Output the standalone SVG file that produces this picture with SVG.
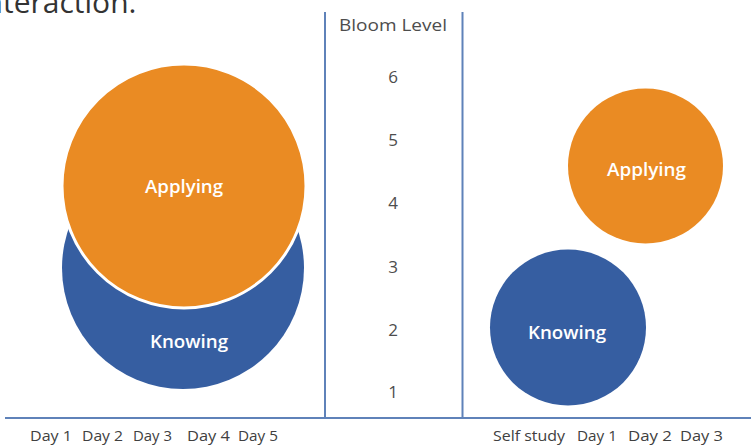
<svg xmlns="http://www.w3.org/2000/svg" width="751" height="447" viewBox="0 0 751 447">
  <style>
    .axis { stroke: #5f82b9; stroke-width: 2; fill: none; }
    .orange { fill: #ea8b23; }
    .blue { fill: #365ea1; }
    .lbl { font-family: "Open Sans", "Liberation Sans", sans-serif; fill: #ffffff; font-size: 18px; font-weight: 600; text-anchor: middle; }
    .num { font-family: "Open Sans", "Liberation Sans", sans-serif; fill: #4d4d4d; font-size: 17px; text-anchor: middle; }
    .tick { font-family: "Open Sans", "Liberation Sans", sans-serif; fill: #404040; font-size: 15px; }
    .cap { font-family: "Open Sans", "Liberation Sans", sans-serif; fill: #333333; font-size: 30px; }
  </style>
  <rect width="751" height="447" fill="#ffffff"/>
  <text class="cap" x="-23" y="13">interaction.</text>

  <g id="connectors">
    <line class="axis" x1="5" y1="418" x2="751" y2="418"/>
    <line class="axis" x1="325" y1="12" x2="325" y2="418"/>
    <line class="axis" x1="462.5" y1="12" x2="462.5" y2="418"/>
  </g>

  <g id="axis-labels">
    <text class="num" x="393" y="31" textLength="108" lengthAdjust="spacingAndGlyphs">Bloom Level</text>
    <text class="num" x="393" y="83">6</text>
    <text class="num" x="393" y="146">5</text>
    <text class="num" x="393" y="209">4</text>
    <text class="num" x="393" y="273">3</text>
    <text class="num" x="393" y="336">2</text>
    <text class="num" x="393" y="398">1</text>
    <text class="tick" x="30" y="441" textLength="42" lengthAdjust="spacingAndGlyphs">Day 1</text>
    <text class="tick" x="82" y="441" textLength="41" lengthAdjust="spacingAndGlyphs">Day 2</text>
    <text class="tick" x="133" y="441" textLength="39" lengthAdjust="spacingAndGlyphs">Day 3</text>
    <text class="tick" x="187" y="441" textLength="43" lengthAdjust="spacingAndGlyphs">Day 4</text>
    <text class="tick" x="238" y="441" textLength="40" lengthAdjust="spacingAndGlyphs">Day 5</text>
    <text class="tick" x="493" y="441" textLength="72" lengthAdjust="spacingAndGlyphs">Self study</text>
    <text class="tick" x="577" y="441" textLength="40" lengthAdjust="spacingAndGlyphs">Day 1</text>
    <text class="tick" x="628" y="441" textLength="44" lengthAdjust="spacingAndGlyphs">Day 2</text>
    <text class="tick" x="680" y="441" textLength="43" lengthAdjust="spacingAndGlyphs">Day 3</text>
  </g>

  <g id="left-knowing">
    <circle class="blue" cx="183" cy="268" r="121"/>
    <text class="lbl" x="189" y="348" textLength="78" lengthAdjust="spacingAndGlyphs">Knowing</text>
  </g>
  <g id="left-applying">
    <circle class="orange" cx="184" cy="186" r="122" stroke="#ffffff" stroke-width="3"/>
    <text class="lbl" x="184" y="193" textLength="78" lengthAdjust="spacingAndGlyphs">Applying</text>
  </g>

  <g id="right-applying">
    <circle class="orange" cx="645.5" cy="166" r="77.5"/>
    <text class="lbl" x="646.5" y="176" textLength="79" lengthAdjust="spacingAndGlyphs">Applying</text>
  </g>
  <g id="right-knowing">
    <circle class="blue" cx="568" cy="327.5" r="78"/>
    <text class="lbl" x="567" y="339" textLength="78" lengthAdjust="spacingAndGlyphs">Knowing</text>
  </g>
</svg>
